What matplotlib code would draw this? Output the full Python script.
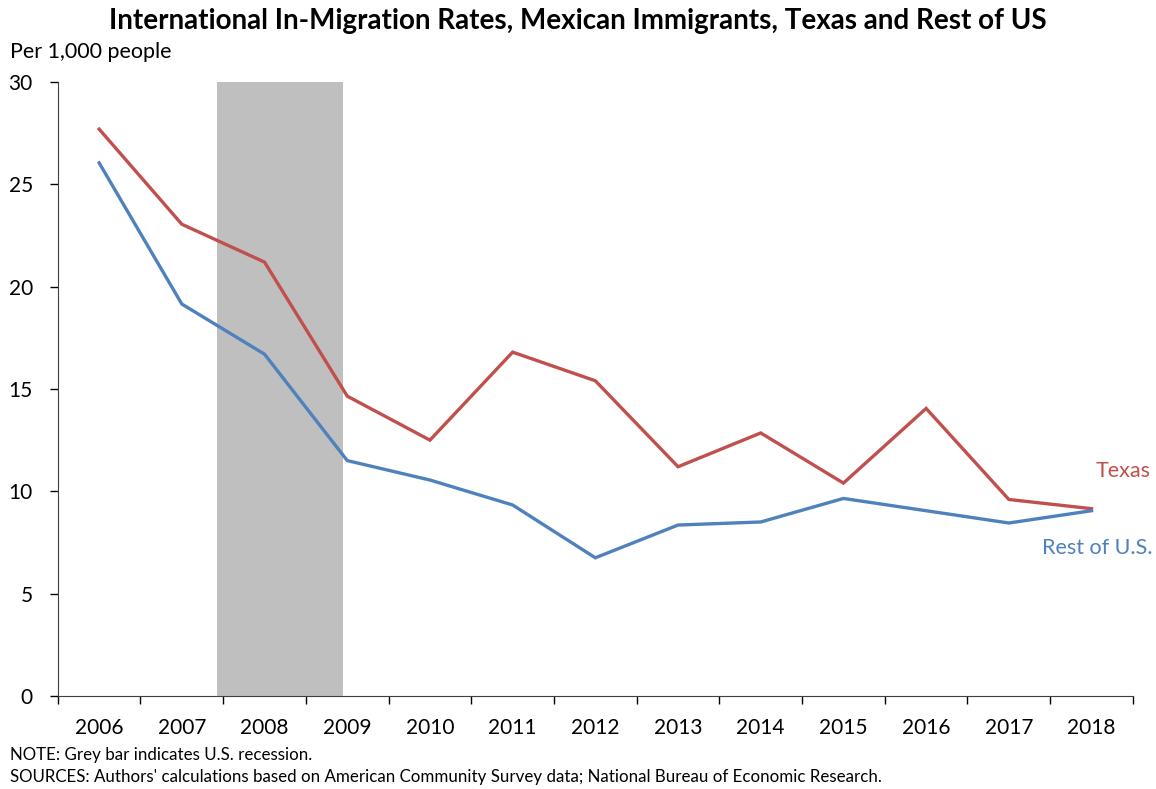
import matplotlib.pyplot as plt
import numpy as np

years = ['2006', '2007', '2008', '2009', '2010', '2011', '2012',
         '2013', '2014', '2015', '2016', '2017', '2018']
texas = [27.7, 23.05, 21.2, 14.65, 12.5, 16.8, 15.4, 11.2, 12.85, 10.4, 14.05, 9.6, 9.15]
rest_us = [26.05, 19.15, 16.7, 11.5, 10.55, 9.33, 6.75, 8.35, 8.5, 9.65, 9.05, 8.45, 9.05]
# recession shading, in category-index units
recession = (1.42, 2.95)

plt.rcParams['font.family'] = ['Lato', 'DejaVu Sans']
red = '#C0504D'
blue = '#4F81BD'

fig = plt.figure(figsize=(11.56, 7.89), dpi=100)
ax = fig.add_axes([0.05, 0.118, 0.93, 0.778])

x = np.arange(len(years))
ax.axvspan(recession[0], recession[1], color='#BFBFBF', lw=0, zorder=1)
ax.plot(x, texas, color=red, lw=2.4, zorder=3, solid_joinstyle='miter')
ax.plot(x, rest_us, color=blue, lw=2.4, zorder=3, solid_joinstyle='miter')

ax.set_xlim(-0.5, len(years) - 0.5)
ax.set_ylim(0, 30)
ax.set_yticks(range(0, 31, 5))
ax.set_xticks(np.arange(-0.5, len(years), 1.0))
ax.set_xticklabels([])
ax.set_xticks(x, minor=True)
ax.set_xticklabels(years, minor=True)
ax.tick_params(axis='x', which='minor', length=0, pad=16, labelsize=15)
ax.tick_params(axis='x', which='major', length=6, direction='out', width=1)
ax.tick_params(axis='y', length=6, direction='out', width=1, labelsize=15, pad=12)

for s in ['top', 'right']:
    ax.spines[s].set_visible(False)
for s in ['left', 'bottom']:
    ax.spines[s].set_color('#404040')

ax.text(12.72, texas[-1] + 1.85, 'Texas', color=red, fontsize=15.5, ha='right', va='center')
ax.text(12.74, rest_us[-1] - 1.8, 'Rest of U.S.', color=blue, fontsize=15.5, ha='right', va='center')

fig.text(0.5, 0.973, 'International In-Migration Rates, Mexican Immigrants, Texas and Rest of US',
         ha='center', va='center', fontsize=20, fontweight='bold')
fig.text(0.009, 0.934, 'Per 1,000 people', fontsize=15.5, va='center', ha='left')
fig.text(0.009, 0.043, 'NOTE: Grey bar indicates U.S. recession.', fontsize=12.2, va='center')
fig.text(0.009, 0.015, "SOURCES: Authors' calculations based on American Community Survey data; "
         "National Bureau of Economic Research.", fontsize=12.2, va='center')

fig.savefig('out.png', dpi=100)
